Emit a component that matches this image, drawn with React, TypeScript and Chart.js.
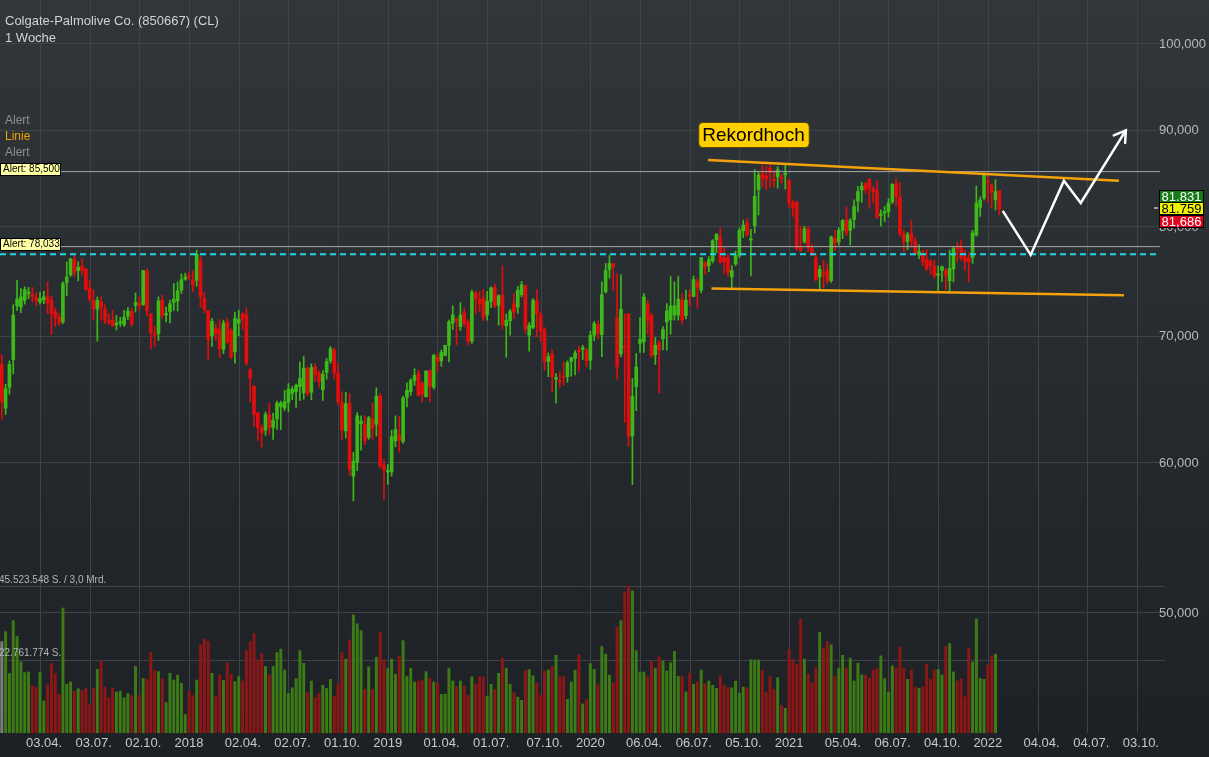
import { useEffect, useRef } from 'react';
import { Chart, registerables } from 'chart.js';

Chart.register(...registerables);

const W = 1209;
const H = 757;

const TITLE = 'Colgate-Palmolive Co. (850667) (CL)';
const SUBTITLE = '1 Woche';
const SIDE_LABELS = ['Alert', 'Linie', 'Alert'];
const BADGE_TEXT = 'Rekordhoch';

// weeks counted from 03.04.2017
const FIRST_WEEK = -10;

const opens = [
  67.6, 64.1, 65.75, 68.0, 72.6, 72.5, 73.1, 73.7, 73.6, 73.3,
  72.95, 73.15, 73.4, 73.1, 72.1, 71.6, 71.2, 74.7, 75.4, 76.8,
  75.8, 76.2, 75.95, 74.15, 73.1, 72.3, 72.95, 72.3, 71.3, 71.35,
  70.95, 71.1, 70.95, 71.7, 72.1, 72.65, 72.85, 72.7, 75.75, 71.9,
  70.15, 70.2, 73.1, 71.8, 72.1, 72.9, 73.05, 74.0, 75.0, 75.3,
  74.95, 74.9, 76.7, 73.25, 72.2, 70.0, 70.65, 70.55, 68.85, 71.15,
  70.45, 68.65, 71.1, 71.9, 71.8, 67.15, 65.8, 63.7, 62.6, 62.4,
  63.6, 62.6, 63.25, 64.2, 64.1, 64.55, 65.25, 65.4, 65.8, 65.3,
  67.3, 65.35, 67.4, 66.9, 65.55, 66.95, 67.9, 68.8, 66.9, 64.55,
  62.35, 64.45, 59.0, 60.0, 62.9, 62.85, 61.85, 63.25, 62.85, 65.05,
  59.8, 59.3, 59.3, 61.6, 62.0, 61.55, 64.95, 65.4, 66.3, 66.85,
  66.1, 65.0, 67.1, 65.75, 68.2, 67.9, 68.35, 69.2, 71.1, 71.35,
  70.8, 72.0, 71.2, 69.55, 73.75, 73.2, 73.3, 71.8, 73.0, 74.25,
  72.65, 73.55, 70.85, 71.3, 72.8, 72.5, 73.6, 74.45, 70.05, 70.7,
  73.05, 71.8, 70.55, 67.85, 68.45, 66.4, 66.25, 66.65, 66.6, 67.85,
  68.1, 68.75, 68.85, 68.75, 67.95, 70.05, 70.95, 70.1, 73.85, 75.9,
  76.45, 71.55, 68.5, 69.1, 71.9, 61.95, 65.8, 69.35, 69.5, 72.75,
  71.8, 68.4, 69.4, 69.75, 71.2, 71.4, 71.8, 71.8, 73.15, 71.75,
  73.55, 73.45, 74.8, 74.0, 76.55, 76.25, 76.7, 78.7, 78.95, 77.0,
  77.0, 75.2, 76.4, 77.2, 79.55, 80.35, 78.65, 80.05, 83.65, 85.25,
  85.05, 85.85, 84.7, 84.95, 84.85, 85.15, 84.6, 82.3, 82.4, 78.0,
  78.5, 79.75, 77.85, 77.0, 75.2, 75.55, 75.8, 74.85, 78.85, 78.5,
  79.6, 80.6, 79.6, 80.65, 82.5, 83.6, 84.25, 84.7, 83.8, 83.5,
  81.05, 81.3, 81.45, 82.4, 84.25, 82.85, 79.25, 78.55, 79.3, 78.55,
  77.25, 77.4, 76.8, 76.65, 76.2, 75.35, 75.8, 75.8, 74.85, 75.95,
  77.9, 78.0, 77.05, 76.95, 77.0, 79.15, 81.85, 82.8, 84.5, 84.1,
  82.6, 83.55,
];

const highs = [
  68.4, 66.0, 67.9, 72.7, 74.9, 74.15, 74.3, 74.25, 74.25, 73.8,
  73.8, 73.9, 74.75, 73.5, 72.4, 71.9, 74.75, 76.6, 76.9, 77.2,
  76.6, 76.9, 75.95, 74.9, 74.0, 73.4, 73.4, 72.7, 71.9, 72.2,
  71.75, 71.6, 72.2, 72.45, 72.4, 73.75, 73.4, 75.8, 75.95, 71.95,
  70.8, 73.4, 73.55, 72.5, 73.1, 74.6, 74.75, 75.5, 75.55, 75.7,
  75.8, 77.7, 77.1, 73.8, 72.2, 71.5, 71.0, 71.4, 71.35, 71.5,
  70.6, 72.05, 72.2, 72.0, 72.45, 67.3, 65.9, 63.8, 62.8, 63.8,
  64.5, 63.7, 64.65, 64.65, 65.5, 66.05, 65.8, 66.0, 67.8, 68.25,
  67.4, 67.65, 67.65, 67.1, 67.1, 68.1, 69.1, 69.0, 67.7, 65.4,
  65.35, 65.25, 60.75, 63.75, 63.5, 63.5, 63.45, 64.5, 65.7, 65.25,
  60.2, 59.85, 62.4, 63.5, 63.45, 65.05, 66.1, 66.45, 67.25, 67.15,
  66.2, 67.1, 67.15, 68.45, 68.5, 68.8, 69.2, 71.35, 72.6, 71.55,
  72.9, 72.4, 71.4, 74.0, 73.9, 73.9, 74.05, 73.9, 74.3, 74.55,
  73.6, 76.2, 71.9, 72.3, 73.7, 74.35, 74.8, 74.45, 71.15, 73.25,
  74.05, 72.1, 70.7, 68.55, 68.8, 66.85, 67.0, 67.8, 67.9, 68.2,
  68.75, 69.1, 69.2, 68.95, 70.4, 71.25, 71.3, 74.75, 76.45, 77.2,
  76.45, 75.5, 75.4, 71.9, 71.9, 66.45, 68.5, 71.6, 73.7, 73.1,
  71.95, 69.85, 69.6, 70.8, 72.8, 75.25, 74.75, 75.25, 73.7, 74.0,
  74.0, 75.3, 75.05, 77.0, 76.6, 77.1, 78.7, 79.3, 79.85, 77.95,
  77.3, 76.25, 77.6, 79.85, 80.6, 80.75, 79.7, 85.7, 85.4, 86.2,
  86.05, 86.2, 85.6, 86.0, 85.25, 86.2, 84.7, 82.6, 82.4, 80.0,
  80.0, 80.0, 78.2, 77.3, 76.25, 76.75, 76.45, 79.05, 79.6, 79.85,
  80.65, 81.9, 80.75, 82.6, 83.95, 84.4, 84.4, 84.8, 83.95, 84.55,
  81.6, 81.95, 82.75, 84.25, 84.8, 84.4, 79.6, 79.4, 80.6, 78.9,
  78.2, 77.7, 77.75, 76.8, 76.75, 76.2, 76.2, 76.0, 77.7, 78.05,
  78.45, 78.65, 77.7, 77.45, 79.6, 84.0, 82.9, 85.35, 85.35, 84.25,
  84.65, 83.55,
];

const lows = [
  63.25, 63.6, 65.2, 66.85, 72.2, 72.0, 72.75, 73.25, 72.95, 72.6,
  72.75, 72.8, 71.9, 70.1, 70.8, 70.9, 71.05, 73.5, 75.25, 75.25,
  74.85, 75.4, 74.0, 72.95, 71.35, 69.55, 71.35, 71.05, 71.0, 70.8,
  70.5, 70.8, 70.8, 71.4, 70.8, 72.05, 72.2, 72.65, 71.75, 68.9,
  69.1, 69.6, 71.5, 71.2, 71.1, 72.2, 72.15, 73.7, 74.9, 74.95,
  73.9, 74.35, 72.5, 72.0, 68.0, 69.1, 69.6, 68.15, 68.5, 69.35,
  68.1, 67.7, 70.0, 70.55, 67.55, 64.6, 62.7, 61.6, 61.1, 62.0,
  62.1, 61.7, 62.45, 62.45, 63.9, 63.8, 64.75, 64.15, 64.7, 64.8,
  65.05, 64.75, 66.2, 65.75, 64.7, 66.4, 67.7, 66.4, 64.35, 61.7,
  61.8, 59.05, 57.25, 59.4, 60.9, 61.3, 61.7, 61.7, 61.95, 59.6,
  57.35, 58.4, 59.0, 61.15, 60.75, 61.4, 64.2, 65.1, 65.9, 65.05,
  64.6, 64.95, 64.6, 65.6, 67.05, 67.45, 68.3, 67.8, 70.55, 69.2,
  70.45, 70.8, 69.2, 69.35, 71.9, 72.1, 71.3, 71.35, 72.45, 72.45,
  70.9, 70.55, 68.2, 70.05, 71.5, 71.95, 73.4, 70.25, 68.7, 70.6,
  69.9, 69.5, 67.1, 66.6, 65.35, 64.5, 65.75, 65.95, 66.15, 66.65,
  66.75, 67.05, 68.0, 67.4, 67.2, 69.6, 69.75, 68.25, 73.75, 75.1,
  74.0, 66.4, 68.25, 63.0, 61.2, 58.4, 63.9, 68.6, 68.6, 70.15,
  68.15, 67.6, 65.3, 68.8, 68.8, 70.15, 71.35, 71.35, 71.0, 71.45,
  72.6, 73.4, 72.4, 73.75, 75.45, 75.7, 76.5, 77.45, 76.45, 75.5,
  75.2, 74.2, 76.25, 77.0, 78.9, 79.0, 75.3, 79.35, 81.1, 83.9,
  83.6, 83.9, 83.9, 83.8, 84.3, 83.7, 81.8, 80.95, 77.7, 77.55,
  78.35, 77.55, 77.2, 74.85, 74.05, 74.2, 74.6, 74.7, 77.7, 78.2,
  78.8, 79.1, 78.2, 79.8, 81.4, 82.35, 83.25, 81.75, 82.3, 80.75,
  80.0, 80.45, 80.9, 82.25, 81.95, 79.0, 77.55, 77.75, 78.0, 77.35,
  76.9, 76.25, 75.8, 75.45, 75.1, 73.9, 74.8, 74.05, 73.9, 74.75,
  76.6, 76.75, 75.8, 74.75, 76.45, 79.05, 80.95, 82.6, 82.4, 81.8,
  81.6, 81.15,
];

const closes = [
  64.6, 65.65, 67.6, 71.8, 73.2, 73.4, 74.05, 73.8, 73.4, 73.05,
  73.25, 73.4, 72.85, 71.9, 71.6, 71.1, 74.6, 75.2, 76.9, 75.6,
  76.1, 75.8, 74.05, 73.2, 72.35, 73.1, 72.45, 71.35, 71.1, 70.85,
  71.0, 71.2, 71.6, 72.15, 71.05, 72.9, 72.65, 75.8, 72.15, 70.25,
  70.05, 73.05, 71.75, 71.9, 72.8, 73.2, 73.95, 74.95, 75.2, 75.2,
  74.45, 77.3, 73.4, 72.3, 69.7, 71.25, 70.2, 68.9, 71.1, 69.5,
  68.2, 71.5, 71.4, 71.45, 67.7, 66.5, 63.6, 62.6, 62.2, 63.6,
  62.6, 63.15, 64.5, 64.5, 64.6, 65.6, 65.6, 65.9, 66.45, 67.3,
  65.25, 67.35, 66.75, 66.2, 66.8, 67.85, 68.9, 66.9, 64.6, 62.4,
  64.45, 59.5, 60.1, 63.5, 63.1, 61.6, 63.35, 62.55, 65.05, 59.75,
  59.45, 59.35, 61.9, 62.45, 61.65, 64.9, 65.5, 66.3, 66.7, 65.1,
  65.2, 67.05, 65.8, 68.35, 67.8, 68.6, 69.2, 71.2, 71.8, 71.3,
  71.8, 71.05, 69.5, 73.8, 73.25, 72.75, 71.6, 73.0, 74.2, 72.6,
  73.5, 70.95, 71.35, 72.1, 72.05, 74.0, 74.5, 70.6, 70.9, 73.1,
  71.9, 70.4, 67.85, 68.25, 66.6, 66.45, 66.2, 66.55, 67.75, 68.15,
  68.55, 68.65, 69.0, 67.9, 70.05, 71.05, 70.2, 73.6, 75.8, 76.45,
  76.15, 67.4, 72.3, 69.0, 61.95, 65.0, 67.4, 69.7, 73.4, 71.3,
  68.35, 69.2, 68.8, 70.55, 72.15, 72.6, 72.6, 73.2, 71.35, 73.1,
  73.45, 74.95, 74.2, 77.0, 76.15, 76.8, 78.6, 79.2, 76.6, 76.6,
  75.65, 75.8, 77.2, 79.6, 80.1, 79.15, 78.75, 82.95, 85.15, 84.8,
  84.7, 85.4, 84.55, 85.7, 84.75, 85.35, 82.3, 81.8, 77.85, 77.7,
  79.75, 77.9, 77.2, 74.95, 75.9, 75.45, 74.85, 78.95, 78.35, 79.6,
  80.55, 79.35, 80.55, 81.95, 83.45, 84.0, 83.6, 83.8, 83.45, 80.85,
  81.2, 81.4, 82.3, 84.2, 82.95, 79.3, 78.5, 79.2, 78.55, 77.35,
  77.55, 76.6, 75.95, 76.25, 75.3, 75.4, 76.15, 75.35, 76.0, 77.85,
  77.8, 76.95, 76.6, 76.6, 79.35, 82.3, 82.6, 85.2, 84.4, 83.35,
  83.45, 81.69,
];

// weekly volume in millions of shares
const volumes = [
  28.3, 31.4, 18.4, 34.8, 29.9, 22.0, 18.7, 18.9, 14.6, 14.2,
  18.7, 9.9, 14.9, 21.5, 18.4, 12.0, 38.7, 15.1, 15.8, 13.0,
  13.7, 13.2, 13.8, 9.0, 14.0, 19.7, 22.3, 14.2, 10.9, 14.0,
  12.7, 13.0, 10.9, 12.2, 11.6, 20.6, 11.7, 16.9, 16.6, 24.9,
  19.4, 19.0, 16.8, 9.4, 18.5, 16.4, 17.9, 15.4, 5.7, 13.0,
  11.6, 16.4, 27.2, 29.1, 28.4, 18.5, 11.2, 17.9, 16.3, 21.8,
  18.2, 15.9, 17.5, 16.1, 25.5, 28.3, 30.7, 22.6, 24.7, 20.6,
  17.9, 20.6, 24.9, 26.0, 19.5, 12.3, 14.0, 16.8, 25.5, 21.6,
  12.5, 16.1, 10.9, 12.3, 14.8, 13.8, 16.6, 11.4, 15.1, 24.9,
  22.9, 28.8, 36.6, 33.8, 31.7, 13.5, 20.5, 13.5, 23.4, 31.2,
  22.6, 20.0, 22.9, 18.2, 23.9, 28.6, 17.5, 20.1, 15.8, 16.1,
  16.4, 19.0, 16.9, 15.8, 15.5, 12.0, 12.0, 20.1, 16.1, 14.3,
  16.1, 14.6, 11.6, 17.4, 15.1, 17.4, 17.4, 11.4, 15.1, 13.5,
  18.5, 23.2, 20.1, 15.1, 12.5, 11.1, 10.1, 19.4, 19.6, 17.7,
  15.4, 11.7, 19.2, 19.5, 20.6, 24.1, 17.5, 17.4, 10.4, 15.8,
  19.5, 24.2, 9.0, 10.4, 21.5, 19.7, 14.9, 26.8, 24.4, 17.9,
  15.6, 32.9, 34.8, 43.7, 45.5, 44.0, 25.5, 18.9, 18.9, 17.4,
  22.1, 20.0, 23.6, 22.3, 19.2, 21.8, 25.3, 17.5, 17.5, 12.7,
  18.5, 15.1, 15.8, 19.5, 15.3, 16.1, 14.8, 13.8, 17.7, 14.8,
  14.0, 14.0, 16.1, 12.3, 14.2, 14.0, 22.7, 22.6, 22.6, 19.4,
  12.5, 17.4, 13.5, 17.1, 8.5, 7.6, 25.8, 22.9, 21.3, 35.3,
  22.9, 18.2, 15.4, 20.3, 31.2, 26.3, 28.3, 27.3, 17.4, 20.0,
  24.1, 20.0, 23.2, 16.1, 21.6, 18.0, 17.9, 16.9, 19.5, 20.0,
  23.9, 16.8, 12.7, 20.8, 20.1, 26.5, 20.1, 16.6, 19.5, 14.2,
  13.8, 14.3, 21.3, 16.6, 19.5, 19.7, 18.0, 26.8, 27.7, 18.9,
  16.1, 16.8, 11.2, 26.2, 22.0, 35.3, 16.9, 16.6, 21.0, 23.9,
  24.4,
];

const xTickWeeks = [0, 13, 26, 39, 52, 65, 78, 91, 104, 117, 131, 144, 157, 170, 183, 196, 209, 222, 235, 248, 261, 274, 287];
const xTickLabels = [
  '03.04.', '03.07.', '02.10.', '2018', '02.04.', '02.07.', '01.10.', '2019',
  '01.04.', '01.07.', '07.10.', '2020', '06.04.', '06.07.', '05.10.', '2021',
  '05.04.', '06.07.', '04.10.', '2022', '04.04.', '04.07.', '03.10.',
];
const priceTicks = [100, 90, 80, 70, 60, 50];
const priceTickLabels = ['100,000', '90,000', '80,000', '70,000', '60,000', '50,000'];
const volumeTicks = [45.523548, 22.761774];
const volumeTickLabels = ['45.523.548 S. / 3,0 Mrd.', '22.761.774 S.'];

const alertLevels = [85.5, 78.033];
const alertLabels = ['Alert: 85,500', 'Alert: 78,033'];
const supportLevel = 77.32;
const lastPriceLevel = 81.759;
const lastPriceLabels = ['81.831', '81.759', '81,686'];

const upperTrendWeeks = [174.8, 282.3];
const upperTrendPrices = [86.71, 84.56];
const lowerTrendWeeks = [175.7, 283.6];
const lowerTrendPrices = [74.15, 73.55];
const scenarioWeeks = [251.9, 259.2, 267.9, 272.3, 284.1];
const scenarioPrices = [81.5, 77.25, 84.55, 82.3, 89.9];

// scale ranges (chart area 0..1165 x 0..733)
const X_MIN = -10.466;
const X_MAX = 294.35;
const Y_MIN = 43.15;
const Y_MAX = 105.38;
const VOL_MAX = 227;
const LINE_START_WEEK = 5.2;
const LINE_END_WEEK = 293.0;

const FONT = '"Liberation Sans", Arial, Helvetica, sans-serif';
const GRID = '#3d4347';
const UP = '#3dba18';
const DOWN = '#e20d0d';
const VOL_UP = '#3c7b15';
const VOL_DOWN = '#8d1616';

export default function App() {
  const ref = useRef<HTMLCanvasElement>(null);

  useEffect(() => {
    document.body.style.margin = '0';
    document.body.style.overflow = 'hidden';
    document.body.style.background = '#1e2125';
    const canvas = ref.current;
    if (!canvas) return;

    const up = opens.map((o, k) => closes[k] >= o);
    const candleColors = up.map((u) => (u ? UP : DOWN));
    const volColors = volumes.map((_, k) => (k === 0 ? '#7c7c7c' : up[k] ? VOL_UP : VOL_DOWN));

    const wickData = opens.map((_, k) => ({ x: FIRST_WEEK + k, y: [lows[k], highs[k]] }));
    const bodyData = opens.map((o, k) => ({ x: FIRST_WEEK + k, y: [Math.min(o, closes[k]), Math.max(o, closes[k])] }));
    const volData = volumes.map((v, k) => ({ x: FIRST_WEEK + k, y: v }));

    const toPts = (xs: number[], ys: number[]) => xs.map((x, k) => ({ x, y: ys[k] }));

    const bgPlugin = {
      id: 'bg',
      beforeDraw(chart: any) {
        const { ctx } = chart;
        const g = ctx.createLinearGradient(0, 0, 0, H);
        g.addColorStop(0, '#30363a');
        g.addColorStop(1, '#1d2024');
        ctx.save();
        ctx.fillStyle = g;
        ctx.fillRect(0, 0, W, H);
        ctx.restore();
      },
    };

    const gridPlugin = {
      id: 'grid',
      beforeDatasetsDraw(chart: any) {
        const { ctx, chartArea, scales } = chart;
        ctx.save();
        ctx.strokeStyle = GRID;
        ctx.lineWidth = 1;
        xTickWeeks.forEach((w) => {
          const px = Math.round(scales.x.getPixelForValue(w)) + 0.5;
          ctx.beginPath();
          ctx.moveTo(px, chartArea.top);
          ctx.lineTo(px, chartArea.bottom);
          ctx.stroke();
        });
        priceTicks.forEach((p) => {
          const py = Math.round(scales.y.getPixelForValue(p)) + 0.5;
          ctx.beginPath();
          ctx.moveTo(chartArea.left, py);
          ctx.lineTo(chartArea.right, py);
          ctx.stroke();
        });
        volumeTicks.forEach((v) => {
          const py = Math.round(scales.yVol.getPixelForValue(v)) + 0.5;
          ctx.beginPath();
          ctx.moveTo(chartArea.left, py);
          ctx.lineTo(chartArea.right, py);
          ctx.stroke();
        });
        ctx.restore();
      },
    };

    const textPlugin = {
      id: 'texts',
      afterDraw(chart: any) {
        const { ctx, scales } = chart;
        ctx.save();
        // arrow head
        const n = scenarioWeeks.length;
        const tx = scales.x.getPixelForValue(scenarioWeeks[n - 1]);
        const ty = scales.y.getPixelForValue(scenarioPrices[n - 1]);
        ctx.strokeStyle = '#ffffff';
        ctx.lineWidth = 2.5;
        ctx.lineCap = 'round';
        ctx.beginPath();
        ctx.moveTo(tx - 12, ty + 5);
        ctx.lineTo(tx, ty);
        ctx.lineTo(tx - 0.7, ty + 12.5);
        ctx.stroke();

        // title
        ctx.textBaseline = 'middle';
        ctx.textAlign = 'left';
        ctx.font = `13px ${FONT}`;
        ctx.fillStyle = '#d2d2d2';
        ctx.fillText(TITLE, 5, 21);
        ctx.fillText(SUBTITLE, 5, 38);

        // side labels
        ctx.font = `12px ${FONT}`;
        const sideColors = ['#8e8e8e', '#f0a000', '#8e8e8e'];
        SIDE_LABELS.forEach((t, k) => {
          ctx.fillStyle = sideColors[k];
          ctx.fillText(t, 5, 121 + k * 16);
        });

        // alert badges
        ctx.font = `10px ${FONT}`;
        alertLevels.forEach((lv, k) => {
          const py = Math.round(scales.y.getPixelForValue(lv));
          ctx.fillStyle = '#ffffa6';
          ctx.fillRect(0.5, py - 8.5, 60, 12);
          ctx.strokeStyle = '#000000';
          ctx.lineWidth = 1;
          ctx.strokeRect(0.5, py - 8.5, 60, 12);
          ctx.fillStyle = '#000000';
          ctx.fillText(alertLabels[k], 3, py - 2.3);
        });

        // price axis labels
        ctx.font = `13px ${FONT}`;
        ctx.fillStyle = '#b9b9b9';
        priceTicks.forEach((p, k) => {
          const py = scales.y.getPixelForValue(p);
          ctx.fillText(priceTickLabels[k], 1159, py + 1);
        });

        // volume labels
        ctx.font = `10px ${FONT}`;
        ctx.fillStyle = '#b4b4b4';
        volumeTicks.forEach((v, k) => {
          const py = scales.yVol.getPixelForValue(v);
          ctx.fillText(volumeTickLabels[k], -1, py - 6);
        });

        // x axis labels
        ctx.font = `13px ${FONT}`;
        ctx.fillStyle = '#c9c9c9';
        ctx.textAlign = 'center';
        xTickWeeks.forEach((w, k) => {
          const lab = xTickLabels[k];
          const px = scales.x.getPixelForValue(w) + (lab.length > 4 ? 4 : 0);
          ctx.fillText(lab, px, 743);
        });

        // last price boxes
        const cy = scales.y.getPixelForValue(lastPriceLevel);
        const boxFill = ['#167d16', '#f2f200', '#e3001c'];
        const boxText = ['#ffffff', '#000000', '#ffffff'];
        ctx.fillStyle = '#9a9a9a';
        ctx.fillRect(1154, Math.round(cy) - 1, 4, 2);
        ctx.font = `13px ${FONT}`;
        ctx.textAlign = 'center';
        [-1, 0, 1].forEach((off, k) => {
          const top = Math.round(cy - 6 + off * 12.3);
          ctx.fillStyle = boxFill[k];
          ctx.fillRect(1159.5, top + 0.5, 44, 12);
          ctx.strokeStyle = '#000000';
          ctx.lineWidth = 1;
          ctx.strokeRect(1159.5, top + 0.5, 44, 12);
          ctx.fillStyle = boxText[k];
          ctx.fillText(lastPriceLabels[k], 1181.5, top + 7);
        });

        // Rekordhoch badge
        ctx.font = `19px ${FONT}`;
        const tw = ctx.measureText(BADGE_TEXT).width;
        const bx = 753.5 - tw / 2 - 4;
        const bw = tw + 8;
        ctx.beginPath();
        (ctx as any).roundRect(bx + 0.5, 122.5, bw, 25, 4);
        ctx.fillStyle = '#ffd000';
        ctx.fill();
        ctx.strokeStyle = '#5c4a00';
        ctx.lineWidth = 1;
        ctx.stroke();
        ctx.fillStyle = '#000000';
        ctx.fillText(BADGE_TEXT, 753.5, 135.5);
        ctx.restore();
      },
    };

    const chart = new Chart(canvas, {
      type: 'bar',
      data: {
        datasets: [
          {
            type: 'bar',
            data: volData as any,
            yAxisID: 'yVol',
            backgroundColor: volColors,
            barThickness: 2.3,
            grouped: false,
            borderWidth: 0,
            order: 10,
          } as any,
          {
            type: 'bar',
            data: wickData as any,
            yAxisID: 'y',
            backgroundColor: candleColors,
            barThickness: 1,
            grouped: false,
            borderWidth: 0,
            borderSkipped: false,
            order: 9,
          } as any,
          {
            type: 'bar',
            data: bodyData as any,
            yAxisID: 'y',
            backgroundColor: candleColors,
            barThickness: 3,
            minBarLength: 1.5,
            grouped: false,
            borderWidth: 0,
            borderSkipped: false,
            order: 8,
          } as any,
          ...alertLevels.map((lv) => ({
            type: 'line',
            data: [
              { x: LINE_START_WEEK, y: lv },
              { x: LINE_END_WEEK, y: lv },
            ],
            yAxisID: 'y',
            borderColor: '#a8a8a8',
            borderWidth: 1,
            pointRadius: 0,
            order: 5,
          })) as any,
          {
            type: 'line',
            data: [
              { x: X_MIN, y: supportLevel },
              { x: LINE_END_WEEK, y: supportLevel },
            ],
            yAxisID: 'y',
            borderColor: '#1fd8ea',
            borderWidth: 2,
            borderDash: [6, 4],
            pointRadius: 0,
            order: 4,
          } as any,
          {
            type: 'line',
            data: toPts(upperTrendWeeks, upperTrendPrices),
            yAxisID: 'y',
            borderColor: '#f4a20a',
            borderWidth: 2.5,
            pointRadius: 0,
            order: 3,
          } as any,
          {
            type: 'line',
            data: toPts(lowerTrendWeeks, lowerTrendPrices),
            yAxisID: 'y',
            borderColor: '#f4a20a',
            borderWidth: 2.5,
            pointRadius: 0,
            order: 2,
          } as any,
          {
            type: 'line',
            data: toPts(scenarioWeeks, scenarioPrices),
            yAxisID: 'y',
            borderColor: '#ffffff',
            borderWidth: 2.5,
            pointRadius: 0,
            borderJoinStyle: 'miter',
            order: 1,
          } as any,
        ],
      },
      options: {
        responsive: false,
        maintainAspectRatio: false,
        animation: false,
        devicePixelRatio: 1,
        events: [],
        layout: { padding: { left: 0, right: 44, top: 0, bottom: 24 } },
        plugins: { legend: { display: false }, tooltip: { enabled: false } },
        scales: {
          x: { type: 'linear', min: X_MIN, max: X_MAX, offset: false, display: false, bounds: 'data' },
          y: { type: 'logarithmic', min: Y_MIN, max: Y_MAX, display: false, bounds: 'data' },
          yVol: { type: 'linear', position: 'right', min: 0, max: VOL_MAX, display: false, beginAtZero: true },
        },
      } as any,
      plugins: [bgPlugin, gridPlugin, textPlugin],
    });

    return () => chart.destroy();
  }, []);

  return <canvas ref={ref} width={W} height={H} style={{ display: 'block', width: W, height: H }} />;
}
